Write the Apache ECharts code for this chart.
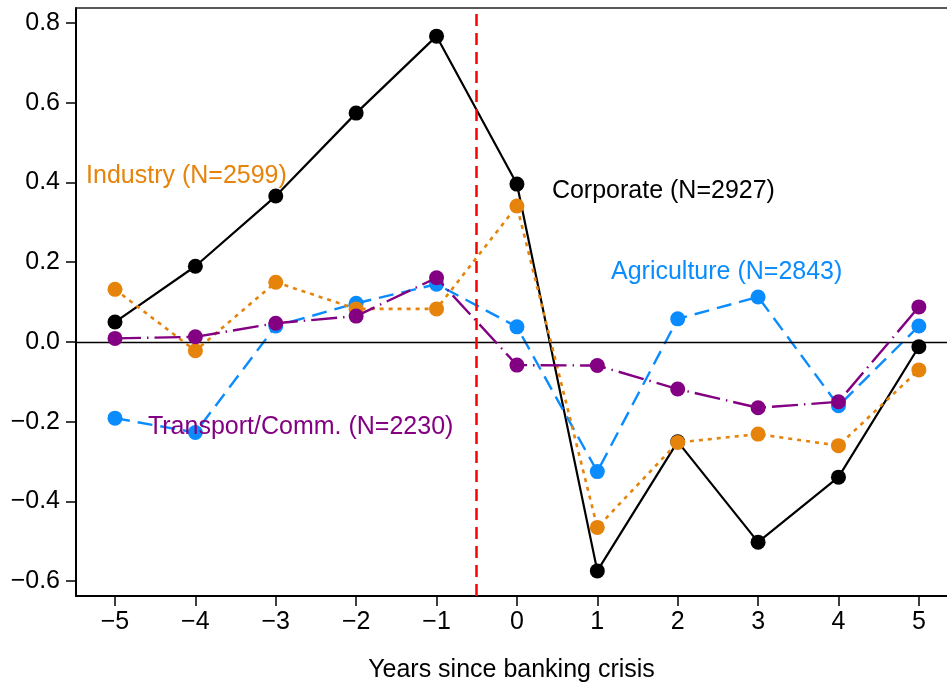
<!DOCTYPE html>
<html>
<head>
<meta charset="utf-8">
<script src="https://cdn.jsdelivr.net/npm/echarts@6/dist/echarts.min.js"></script>
<style>
html,body{margin:0;padding:0;background:#fff;}
#chart{width:947px;height:685px;}
</style>
</head>
<body>
<div id="chart"></div>
<script>
// Years relative to the banking crisis
const years = [-5, -4, -3, -2, -1, 0, 1, 2, 3, 4, 5];

// Sector estimates by year
const corporate   = [0.050, 0.190, 0.366, 0.574, 0.767, 0.396, -0.574, -0.250, -0.502, -0.339, -0.012];
const agriculture = [-0.191, -0.227, 0.040, 0.097, 0.145, 0.038, -0.325, 0.058, 0.113, -0.160, 0.040];
const industry    = [0.132, -0.022, 0.150, 0.083, 0.083, 0.341, -0.465, -0.252, -0.231, -0.260, -0.070];
const transport   = [0.009, 0.013, 0.047, 0.065, 0.161, -0.058, -0.059, -0.118, -0.165, -0.150, 0.088];

// Series labels and where they sit (data coordinates)
const labelText = {
  corporate: 'Corporate (N=2927)',
  agriculture: 'Agriculture (N=2843)',
  industry: 'Industry (N=2599)',
  transport: 'Transport/Comm. (N=2230)'
};
const labelPos = {
  corporate: [0.435, 0.379],
  agriculture: [1.17, 0.176],
  industry: [-5.36, 0.416],
  transport: [-4.59, -0.213]
};

const yTicks = [-0.6, -0.4, -0.2, 0.0, 0.2, 0.4, 0.6, 0.8];
const crisisLine = -0.5;

const colors = {
  corporate: '#000000',
  agriculture: '#0a8cff',
  industry: '#e5830a',
  transport: '#830083'
};

const FONT = 'Liberation Sans, Arial, Helvetica, sans-serif';
const FS = 25;
const minus = v => String(v).replace('-', '\u2212');

function lineSeries(name, data, color, type, width, z) {
  return {
    name: name,
    type: 'line',
    data: years.map((x, i) => [x, data[i]]),
    symbol: 'circle',
    symbolSize: 15,
    showSymbol: true,
    itemStyle: { color: color, opacity: 1 },
    lineStyle: { color: color, width: width, type: type },
    z: z,
    silent: true,
    animation: false
  };
}

function labelSeries(key) {
  return {
    type: 'scatter',
    data: [[labelPos[key][0], labelPos[key][1]]],
    symbolSize: 0,
    silent: true,
    animation: false,
    z: 10,
    itemStyle: { opacity: 1 },
    label: {
      show: true,
      position: 'right',
      distance: 0,
      formatter: labelText[key],
      color: colors[key],
      opacity: 1,
      fontSize: FS,
      fontFamily: FONT
    }
  };
}

const chart = echarts.init(document.getElementById('chart'), null, { renderer: 'canvas' });

chart.setOption({
  backgroundColor: '#ffffff',
  animation: false,
  grid: { left: 76, right: 0, top: 8, bottom: 89, containLabel: false, outerBoundsMode: 'none' },
  xAxis: [{
    type: 'value',
    min: -5.485,
    max: 5.35,
    position: 'bottom',
    axisLine: { show: true, onZero: false, lineStyle: { color: '#000', width: 2 } },
    axisTick: { show: true, length: 10, lineStyle: { color: '#000', width: 1.5 }, customValues: years },
    axisLabel: {
      show: true, margin: 14, color: '#000', fontSize: FS, fontFamily: FONT,
      customValues: years, formatter: v => minus(v)
    },
    splitLine: { show: false },
    name: 'Years since banking crisis',
    nameLocation: 'middle',
    nameGap: 62,
    nameTextStyle: { color: '#000', fontSize: FS, fontFamily: FONT }
  }, {
    type: 'value',
    min: -5.485,
    max: 5.35,
    position: 'top',
    axisLine: { show: true, onZero: false, lineStyle: { color: '#222', width: 1.5 } },
    axisTick: { show: false },
    axisLabel: { show: false },
    splitLine: { show: false }
  }],
  yAxis: {
    type: 'value',
    min: -0.637,
    max: 0.8376,
    axisLine: { show: true, onZero: false, lineStyle: { color: '#000', width: 2 } },
    axisTick: { show: true, length: 10, lineStyle: { color: '#000', width: 1.5 }, customValues: yTicks },
    axisLabel: {
      show: true, margin: 16, color: '#000', fontSize: FS, fontFamily: FONT,
      customValues: yTicks, formatter: v => minus(Number(v).toFixed(1))
    },
    splitLine: { show: false }
  },
  series: [
    Object.assign(lineSeries('Corporate', corporate, colors.corporate, 'solid', 2.2, 3), {
      markLine: {
        silent: true,
        symbol: 'none',
        label: { show: false },
        animation: false,
        data: [
          { yAxis: 0, lineStyle: { color: '#000', width: 1.3, type: 'solid', opacity: 1 } },
          { xAxis: crisisLine, lineStyle: { color: '#ff0000', width: 2.5, type: [12, 7], opacity: 1 } }
        ]
      }
    }),
    lineSeries('Agriculture', agriculture, colors.agriculture, [15, 8], 2.4, 4),
    lineSeries('Industry', industry, colors.industry, [4, 5], 2.6, 5),
    lineSeries('Transport/Comm.', transport, colors.transport, [26, 6, 1.5, 6], 2.4, 6),
    labelSeries('industry'),
    labelSeries('corporate'),
    labelSeries('agriculture'),
    labelSeries('transport')
  ]
});
</script>
</body>
</html>
